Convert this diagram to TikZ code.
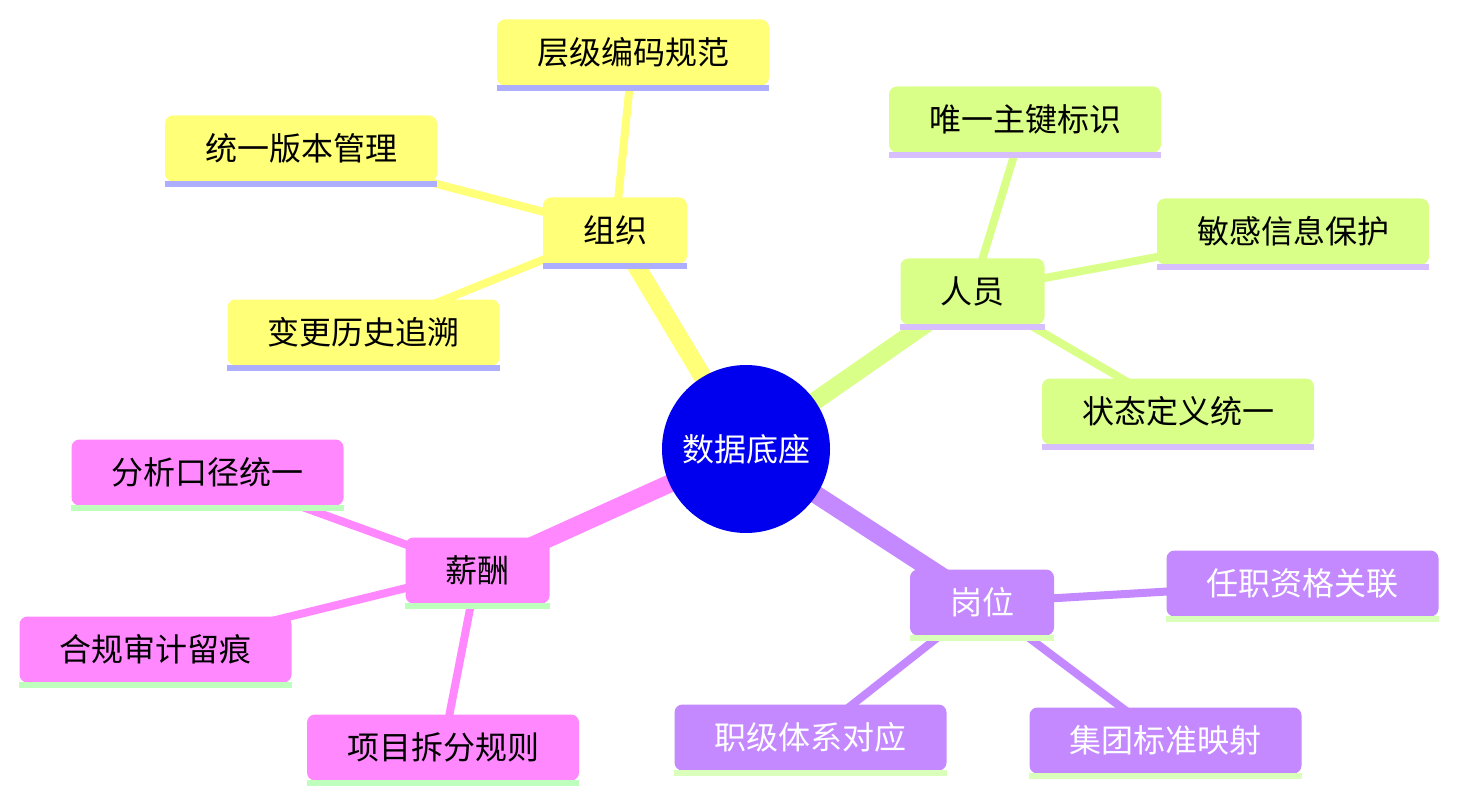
\documentclass[tikz,border=0pt]{standalone}
\usepackage{fontspec}
\setmainfont{Noto Sans CJK SC}
\usetikzlibrary{backgrounds}
\definecolor{cyel}{HTML}{FFFF78}
\definecolor{cyelbar}{HTML}{AEAEFF}
\definecolor{cgrn}{HTML}{D9FF88}
\definecolor{cgrnbar}{HTML}{D6BEFF}
\definecolor{cpur}{HTML}{C488FF}
\definecolor{cpurbar}{HTML}{D9FFBB}
\definecolor{cpnk}{HTML}{FF88FF}
\definecolor{cpnkbar}{HTML}{BEFFBE}
\definecolor{cblue}{HTML}{0000EE}
\begin{document}
\begin{tikzpicture}[x=1pt,y=-1pt,
  box/.style={rectangle, rounded corners=8pt, inner sep=0pt, minimum height=66pt,
    font=\fontsize{32pt}{35pt}\selectfont},
  leafbox/.style={box, minimum width=272pt},
  branchbox/.style={box, minimum width=144pt},
  ybox/.style={fill=cyel, text=black},
  gbox/.style={fill=cgrn, text=black},
  pbox/.style={fill=cpur, text=white},
  kbox/.style={fill=cpnk, text=black},
  mainedge/.style={line width=18pt},
  leafedge/.style={line width=8pt},
  hub/.style={circle, fill=cblue, text=white, minimum size=168pt, inner sep=0pt,
    font=\fontsize{32pt}{35pt}\selectfont}
]
\useasboundingbox (0,0) rectangle (1458,802);

\node[hub] (c) at (746,449) {数据底座};

% yellow branch
\node[branchbox, ybox] (org) at (615,230.5) {组织};
\node[leafbox, ybox] (o1) at (633,52.5) {层级编码规范};
\node[leafbox, ybox] (o2) at (301,148.5) {统一版本管理};
\node[leafbox, ybox] (o3) at (363.5,332.5) {变更历史追溯};

% green branch
\node[branchbox, gbox] (per) at (972.5,291.5) {人员};
\node[leafbox, gbox] (p1) at (1025,119.5) {唯一主键标识};
\node[leafbox, gbox] (p2) at (1293,231.5) {敏感信息保护};
\node[leafbox, gbox] (p3) at (1178,411.5) {状态定义统一};

% purple branch
\node[branchbox, pbox] (pos) at (982,602.5) {岗位};
\node[leafbox, pbox] (q1) at (1302.5,583.5) {任职资格关联};
\node[leafbox, pbox] (q2) at (810.5,737.5) {职级体系对应};
\node[leafbox, pbox] (q3) at (1165.5,740.5) {集团标准映射};

% pink branch
\node[branchbox, kbox] (pay) at (477.5,570.5) {薪酬};
\node[leafbox, kbox] (s1) at (207.5,472.5) {分析口径统一};
\node[leafbox, kbox] (s2) at (155.5,649.5) {合规审计留痕};
\node[leafbox, kbox] (s3) at (443,747.5) {项目拆分规则};

% bars
\foreach \n in {org,o1,o2,o3}{\fill[cyelbar] ([yshift=1pt]\n.south west) rectangle ([yshift=-5pt]\n.south east);}
\foreach \n in {per,p1,p2,p3}{\fill[cgrnbar] ([yshift=1pt]\n.south west) rectangle ([yshift=-5pt]\n.south east);}
\foreach \n in {pos,q1,q2,q3}{\fill[cpurbar] ([yshift=1pt]\n.south west) rectangle ([yshift=-5pt]\n.south east);}
\foreach \n in {pay,s1,s2,s3}{\fill[cpnkbar] ([yshift=1pt]\n.south west) rectangle ([yshift=-5pt]\n.south east);}

\begin{scope}[on background layer]
  \draw[mainedge, cyel] (c.center) -- (org.center);
  \draw[mainedge, cgrn] (c.center) -- (per.center);
  \draw[mainedge, cpur] (c.center) -- (pos.center);
  \draw[mainedge, cpnk] (c.center) -- (pay.center);
  \foreach \n in {o1,o2,o3}{\draw[leafedge, cyel] (org.center) -- (\n.center);}
  \foreach \n in {p1,p2,p3}{\draw[leafedge, cgrn] (per.center) -- (\n.center);}
  \foreach \n in {q1,q2,q3}{\draw[leafedge, cpur] (pos.center) -- (\n.center);}
  \foreach \n in {s1,s2,s3}{\draw[leafedge, cpnk] (pay.center) -- (\n.center);}
\end{scope}
\end{tikzpicture}
\end{document}
